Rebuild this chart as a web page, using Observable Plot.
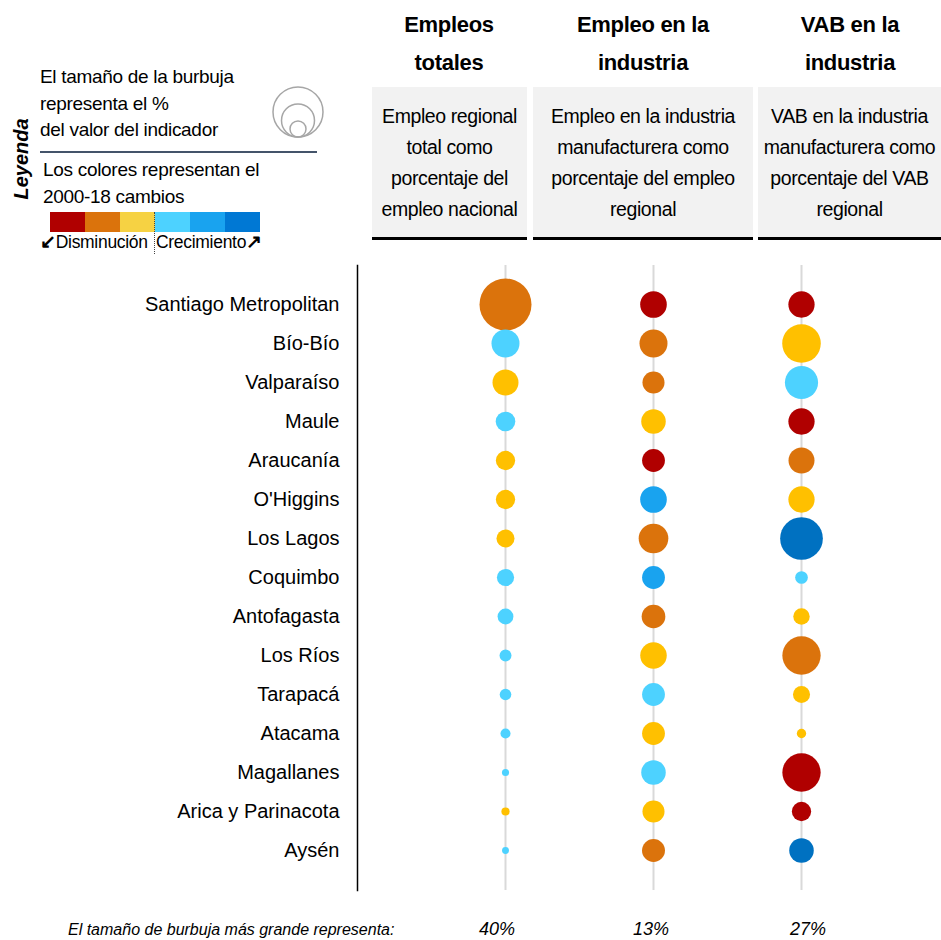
<!DOCTYPE html>
<html>
<head>
<meta charset="utf-8">
<script src="https://cdn.jsdelivr.net/npm/d3@7"></script>
<script src="https://cdn.jsdelivr.net/npm/@observablehq/plot@0.6"></script>
<style>
  html, body { margin: 0; padding: 0; background: #fff; }
  #wrap { position: relative; width: 941px; height: 940px; font-family: "Liberation Sans", Arial, sans-serif; color: #000; overflow: hidden; }
  #wrap > svg { position: absolute; left: 0; top: 0; }
  .abs { position: absolute; }
  .title { font-weight: bold; font-size: 22px; line-height: 38px; text-align: center; white-space: nowrap; letter-spacing: -0.3px; }
  .box { background: #F2F2F2; border-bottom: 3px solid #000; box-sizing: border-box; text-align: center; font-size: 19.5px; line-height: 31px; padding-top: 14px; white-space: nowrap; letter-spacing: -0.4px; }
  .leg { font-size: 19px; line-height: 26.5px; white-space: nowrap; letter-spacing: -0.3px; }
  .foot { font-style: italic; white-space: nowrap; }
</style>
</head>
<body>
<div id="wrap"></div>
<script>
// ---- Data ----
const regions = ["Santiago Metropolitan", "Bío-Bío", "Valparaíso", "Maule", "Araucanía", "O'Higgins", "Los Lagos", "Coquimbo", "Antofagasta", "Los Ríos", "Tarapacá", "Atacama", "Magallanes", "Arica y Parinacota", "Aysén"];
const indicators = ["Empleos totales", "Empleo en la industria", "VAB en la industria"];
const indicatorTitles = [["Empleos", "totales"], ["Empleo en la", "industria"], ["VAB en la", "industria"]];
const indicatorDescriptions = [
  ["Empleo regional", "total como", "porcentaje del", "empleo nacional"],
  ["Empleo en la industria", "manufacturera como", "porcentaje del empleo", "regional"],
  ["VAB en la industria", "manufacturera como", "porcentaje del VAB", "regional"]
];
// percentage values
const empleosTotales = [40, 11.6, 10.0, 5.7, 5.5, 5.5, 4.8, 4.4, 3.7, 2.1, 2.0, 1.5, 0.75, 1.0, 0.7];
const empleoIndustria = [10.5, 11.6, 7.2, 8.9, 7.7, 10.5, 13, 7.7, 8.3, 10.4, 7.7, 7.7, 8.9, 7.2, 7.8];
const vabIndustria = [10.2, 22, 16.3, 10.2, 10, 10.2, 27, 2.4, 4.0, 21.7, 4.3, 1.3, 21.7, 5.5, 8.9];
// 2000-18 change categories: D3 strongest decrease ... C3 strongest growth
const changeCats = ["D3", "D2", "D1", "C1", "C2", "C3"];
const changeColors = ["#B00000", "#DB730C", "#FFC000", "#4DD2FF", "#19A3EF", "#0071C1"];
const legendColors = ["#B00000", "#DB730C", "#F6D243", "#4DD2FF", "#19A3EF", "#0078D4"];
const cambioTotales = ["D2", "C1", "D1", "C1", "D1", "D1", "D1", "C1", "C1", "C1", "C1", "C1", "C1", "D1", "C1"];
const cambioIndustria = ["D3", "D2", "D2", "D1", "D3", "C2", "D2", "C2", "D2", "D1", "C1", "D1", "C1", "D1", "D2"];
const cambioVab = ["D3", "D1", "C1", "D3", "D2", "D1", "C3", "C1", "D1", "D2", "D1", "D1", "D3", "D3", "C3"];
const maxLabels = ["40%", "13%", "27%"];

const valuesByIndicator = [empleosTotales, empleoIndustria, vabIndustria];
const changesByIndicator = [cambioTotales, cambioIndustria, cambioVab];
const data = regions.flatMap((r, i) => indicators.map((ind, j) => ({
  region: r, indicator: ind, value: valuesByIndicator[j][i], change: changesByIndicator[j][i]
})));

const wrap = document.getElementById("wrap");

const chart = Plot.plot({
  width: 941,
  height: 940,
  marginLeft: 357,
  marginRight: 0,
  marginTop: 265,
  marginBottom: 50,
  style: { fontFamily: "'Liberation Sans', Arial, sans-serif", fontSize: "20px", color: "#000", background: "transparent" },
  x: { type: "point", domain: indicators, range: [505, 801], padding: 0, axis: null },
  y: { type: "point", domain: regions, range: [303, 851], padding: 0, label: null },
  r: { type: "sqrt", domain: [0, 40], range: [0, 26] },
  color: { type: "ordinal", domain: changeCats, range: changeColors },
  marks: [
    Plot.ruleX(indicators, { x: d => d, stroke: "#D9D9D9", strokeWidth: 2 }),
    Plot.frame({ anchor: "left", stroke: "#000", strokeWidth: 1.5 }),
    Plot.axisY({ tickSize: 0, tickPadding: 18, fontSize: 20, label: null }),
    Plot.dot(data, { x: "indicator", y: "region", r: "value", fill: "change" })
  ]
});
wrap.appendChild(chart);

function addDiv(cls, style, html) {
  const d = document.createElement("div");
  d.className = "abs " + cls;
  Object.assign(d.style, style);
  d.innerHTML = html;
  wrap.appendChild(d);
  return d;
}

// Column headers
const titleCenters = [449, 643, 850];
const boxes = [[372, 527], [533, 753], [758, 941]];
indicatorTitles.forEach((t, j) => {
  addDiv("title", { left: (titleCenters[j] - 120) + "px", width: "240px", top: "6px" }, t.join("<br>"));
  const [x0, x1] = boxes[j];
  addDiv("box", { left: x0 + "px", width: (x1 - x0) + "px", top: "87px", height: "153px" }, indicatorDescriptions[j].join("<br>"));
});

// Legend
addDiv("", { left: "8px", top: "118px", width: "26px", height: "82px" },
  '<div style="position:absolute;left:13px;top:41px;transform:translate(-50%,-50%) rotate(-90deg);font-weight:bold;font-style:italic;font-size:20px;white-space:nowrap;">Leyenda</div>');
addDiv("leg", { left: "40px", top: "64px" }, "El tamaño de la burbuja<br>representa el %<br>del valor del indicador");
addDiv("", { left: "272px", top: "84px" },
  '<svg width="54" height="56"><g fill="none" stroke="#A6A6A6" stroke-width="1.5">' +
  '<circle cx="26" cy="28" r="25"/><circle cx="26" cy="36.5" r="16.5"/><circle cx="26" cy="45" r="8"/></g></svg>');
addDiv("", { left: "40px", top: "151px", width: "277px", height: "2px", background: "#44546A" }, "");
addDiv("leg", { left: "43px", top: "157px" }, "Los colores representan el<br>2000-18 cambios");
legendColors.forEach((c, k) => {
  addDiv("", { left: (50 + k * 35) + "px", top: "212px", width: "35px", height: "20px", background: c }, "");
});
addDiv("", { left: "154px", top: "212px", width: "0px", height: "42px", borderLeft: "1px dotted #444" }, "");
addDiv("leg", { left: "40px", top: "230px", fontSize: "17.5px", lineHeight: "24px" }, '<b style="font-size:19px">&#8601;</b>Disminución');
addDiv("leg", { left: "156px", top: "230px", fontSize: "17.5px", lineHeight: "24px" }, 'Crecimiento<b style="font-size:19px">&#8599;</b>');

// Footer
addDiv("foot", { left: "68px", top: "919px", fontSize: "16px", lineHeight: "22px" }, "El tamaño de burbuja más grande representa:");
const footCenters = [497, 651, 808];
maxLabels.forEach((l, j) => {
  addDiv("foot", { left: (footCenters[j] - 40) + "px", width: "80px", textAlign: "center", top: "917px", fontSize: "18px", lineHeight: "24px" }, l);
});
</script>
</body>
</html>
